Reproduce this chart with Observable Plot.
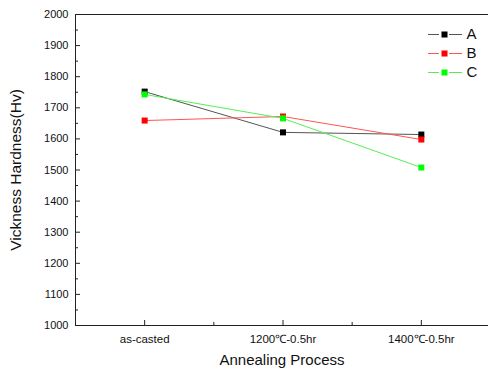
<!DOCTYPE html>
<html>
<head>
<meta charset="utf-8">
<script src="https://cdn.jsdelivr.net/npm/d3@7"></script>
<script src="https://cdn.jsdelivr.net/npm/@observablehq/plot@0.6"></script>
<style>
body { margin: 0; background: #fff; }
#chart svg { font-family: "Liberation Sans", Arial, sans-serif; }
</style>
</head>
<body>
<div id="chart"></div>
<script>
const categories = ["as-casted", "1200\u2103-0.5hr", "1400\u2103-0.5hr"];
const seriesNames = ["A", "B", "C"];
const valuesA = [1752, 1621, 1614];
const valuesB = [1659, 1672, 1598];
const valuesC = [1743, 1666, 1508];
const yTicks = [1000, 1100, 1200, 1300, 1400, 1500, 1600, 1700, 1800, 1900, 2000];
const yMinorTicks = [1050, 1150, 1250, 1350, 1450, 1550, 1650, 1750, 1850, 1950];
const xMinorTicks = [0.5, 1.5];

const markerColors = ["#000000", "#ff0000", "#00ff00"];
const lineColors = ["#555555", "#ff5555", "#55ee55"];

const allValues = [valuesA, valuesB, valuesC];
const data = [];
seriesNames.forEach((s, si) => {
  allValues[si].forEach((v, ci) => data.push({series: s, si, ci, cat: categories[ci], value: v}));
});

const X0 = -0.5, X1 = 2.5;
const pxPerX = (490 - 75) / (X1 - X0);
const pxPerY = (325 - 14) / 1000;
const legend = seriesNames.map((s, i) => ({series: s, i, y: 2000 - (34 + 19 * i - 14) / pxPerY}));

const marks = [];
// frame
marks.push(Plot.ruleY([1000, 2000], {x1: X0, x2: X1, stroke: "#222", strokeWidth: 1}));
marks.push(Plot.ruleX([X0], {y1: 1000, y2: 2000, stroke: "#222", strokeWidth: 1}));
// y ticks inward
marks.push(Plot.ruleY(yTicks.filter(d => d > 1000 && d < 2000), {x1: X0, x2: X0 + 5 / pxPerX, stroke: "#222"}));
marks.push(Plot.ruleY(yMinorTicks, {x1: X0, x2: X0 + 3 / pxPerX, stroke: "#222"}));
// x ticks inward
marks.push(Plot.ruleX([0, 1, 2], {y1: 1000, y2: 1000 + 5 / pxPerY, stroke: "#222"}));
marks.push(Plot.ruleX(xMinorTicks, {y1: 1000, y2: 1000 + 3 / pxPerY, stroke: "#222"}));
// axes labels
marks.push(Plot.axisY({ticks: yTicks, tickSize: 0, tickPadding: 7, fontSize: 11, label: null, tickFormat: d => String(d)}));
marks.push(Plot.axisX({ticks: [0, 1, 2], tickSize: 0, tickPadding: 9, fontSize: 11.5, label: null, tickFormat: d => categories[d]}));
marks.push(Plot.text(["Annealing Process"], {frameAnchor: "bottom", textAnchor: "middle", dy: 39, fontSize: 15, fill: "#111"}));
marks.push(Plot.text(["Vickness Hardness(Hv)"], {frameAnchor: "left", textAnchor: "middle", dx: -59, rotate: -90, fontSize: 15.5, fill: "#111"}));
// series
seriesNames.forEach((s, si) => {
  const d = data.filter(r => r.series === s);
  marks.push(Plot.line(d, {x: "ci", y: "value", stroke: lineColors[si], strokeWidth: 1}));
});
seriesNames.forEach((s, si) => {
  const d = data.filter(r => r.series === s);
  marks.push(Plot.dot(d, {x: "ci", y: "value", symbol: "square", r: 3.4, fill: markerColors[si], stroke: "none"}));
});
// legend
const lx1 = X0 + (428 - 75) / pxPerX, lx2 = X0 + (462 - 75) / pxPerX, lxm = X0 + (444 - 75) / pxPerX, lxt = X0 + (466 - 75) / pxPerX;
marks.push(Plot.ruleY(legend, {y: "y", x1: lx1, x2: lx2, stroke: d => lineColors[d.i], strokeWidth: 1}));
marks.push(Plot.ruleY(legend, {y: "y", x1: lxm - 5 / pxPerX, x2: lxm + 5 / pxPerX, stroke: "#fff", strokeWidth: 3}));
marks.push(Plot.dot(legend, {x: lxm, y: "y", symbol: "square", r: 3.4, fill: d => markerColors[d.i], stroke: "none"}));
marks.push(Plot.text(legend, {x: lxt, y: "y", text: "series", textAnchor: "start", fontSize: 15, fill: "#111"}));

const chart = Plot.plot({
  width: 488,
  height: 373,
  marginLeft: 75,
  marginTop: 14,
  marginBottom: 48,
  marginRight: 0,
  style: {fontFamily: "'Liberation Sans', Arial, sans-serif", background: "#fff", color: "#111"},
  x: {type: "linear", domain: [X0, X1], range: [75, 490]},
  y: {domain: [1000, 2000], range: [325, 14]},
  marks
});
document.getElementById("chart").appendChild(chart);
</script>
</body>
</html>
